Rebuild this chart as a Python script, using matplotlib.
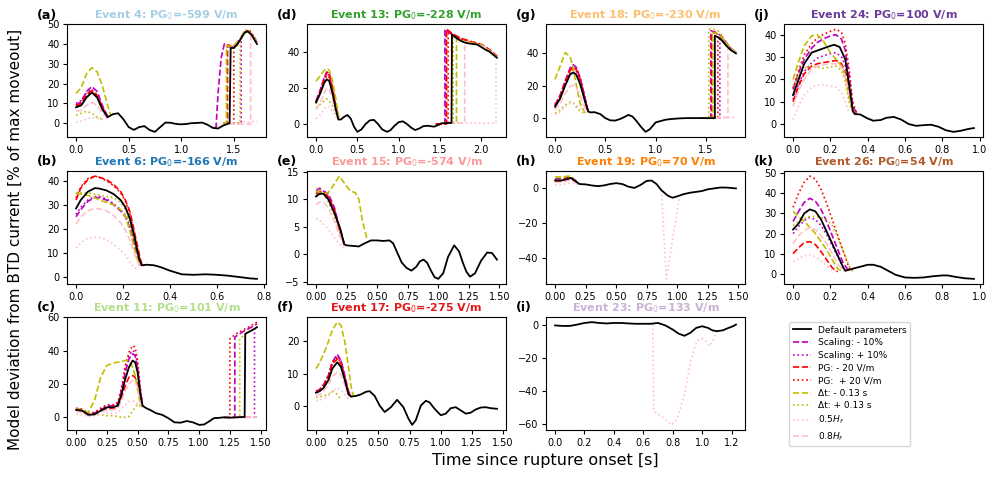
import numpy as np
import matplotlib
matplotlib.use('Agg')
import matplotlib.pyplot as plt
from matplotlib.lines import Line2D
from matplotlib.ticker import MultipleLocator

nan = np.nan

# Variant order: scaling -/+, PG -/+, dt -/+, 0.5Hf, 0.8Hf
VAR_COLORS = ['m', 'm', 'r', 'r', 'y', 'y', 'pink', 'pink']
VAR_STYLES = ['--', ':', '--', ':', '--', ':', ':', '--']
VAR_LABELS = ['Scaling: - 10%', 'Scaling: + 10%', 'PG: - 20 V/m', 'PG:  + 20 V/m',
              'Δt: - 0.13 s', 'Δt: + 0.13 s', '0.5$H_f$', '0.8$H_f$']

LETTERS = ['a', 'b', 'c', 'd', 'e', 'f', 'g', 'h', 'i', 'j', 'k']
EVENTS = [4, 6, 11, 13, 15, 17, 18, 19, 23, 24, 26]
PG0 = [-599, -166, 101, -228, -574, -275, -230, 70, 133, 100, 54]
X_STEP = [0.5, 0.2, 0.25, 0.5, 0.25, 0.25, 0.5, 0.25, 0.2, 0.2, 0.2]
Y_STEP = [10, 10, 20, 20, 5, 10, 20, 20, 20, 10, 10]

# ---------------- (a) Event 4
A_T = [0, .05, .1, .15, .2, .25, .3, .35, .4, .45, .5, .55, .6, .65, .7, .75, .8, .85, .9, .95,
       1.0, 1.05, 1.1, 1.15, 1.2, 1.25, 1.3, 1.35, 1.4, 1.46, 1.47, 1.5, 1.53, 1.56, 1.6, 1.63, 1.67, 1.72]
A_Y = [8, 9, 13, 15.5, 13, 7, 3, 4.5, 5, 2, -2, -3.4, -2, -1.5, -3.5, -4.4, -2, 0.3, 0.2, -0.4,
       -0.6, -0.4, 0, 0.1, 0.3, -0.8, -2.4, -2.7, -1.2, 0, 38, 38, 39.5, 42, 45.5, 46.5, 44.5, 40]
A_ET = [0, .05, .1, .15, .2, .25, .3, .33]
A_EY = [[9, 11, 16, 18.5, 16, 9, 3.5, nan],
        [10, 11.5, 15.5, 17, 14.5, 8, 3, nan],
        [8.5, 10, 14.5, 16.5, 14, 8, 3, nan],
        [9, 10, 14, 16, 13.5, 7.5, 3, nan],
        [15, 18, 25, 28, 26, 19, 9, 4],
        [4, 5, 6, 5, 3, 2, nan, nan],
        [0.5, 1, 2, 3, 2.5, 2, 2.5, nan],
        [6, 6.5, 9, 10.5, 9, 5, 2.5, nan]]
A_LT = [[1.33, 1.35, 1.38, 1.41, 1.43, 1.47, 1.5, 1.55, 1.6, 1.65, 1.72],
        [1.45, 1.57, 1.57, 1.6, 1.65, 1.72],
        [1.4, 1.44, 1.44, 1.5, 1.56, 1.6, 1.65, 1.72],
        [1.45, 1.5, 1.5, 1.56, 1.6, 1.65, 1.72],
        [1.4, 1.43, 1.43, 1.5, 1.56, 1.6, 1.65, 1.72],
        [1.45, 1.56, 1.56, 1.6, 1.63, 1.67, 1.72],
        [1.3, 1.45, 1.6, 1.72],
        [1.45, 1.66, 1.66, 1.72]]
A_LY = [[-2.8, 15, 33, 40, 39, 38.5, 39, 42, 46, 46, 41],
        [0, 0, 43, 46, 47, 41.5],
        [0, 0, 39.5, 39, 42, 46, 46.5, 41],
        [0, 0, 39, 42, 46, 46.5, 41],
        [0, 0, 39, 39, 42.5, 46, 46, 41],
        [0, 0, 43, 46.5, 47.5, 45, 41],
        [-2, 0, 0.5, 1],
        [-0.5, -0.5, 45, 40.5]]

# ---------------- (b) Event 6
B_T = [0, .02, .05, .08, .1, .13, .16, .19, .21, .23, .25, .26, .27, .28, .3, .33, .36, .4, .45,
       .5, .55, .6, .65, .7, .74, .77]
B_Y = [28.5, 32, 35.5, 37, 36.8, 36, 34.5, 32, 29, 24, 16, 11, 7, 4.8, 5, 4.8, 4, 2.5, 1,
       0.8, 1, 0.8, 0.4, -0.2, -0.7, -0.9]
B_ET = [0, .02, .05, .08, .1, .13, .16, .19, .21, .23, .25, .27, .28, .29]
B_EY = [[25, 28, 31.5, 33, 33, 32, 30, 27.5, 25, 20, 13, 6, 4.5, nan],
        [26, 29, 32, 33.5, 33.5, 32.5, 30.5, 28, 25.5, 21, 14, 7, 4.5, nan],
        [32, 37, 40.5, 42, 41.5, 40.5, 38.5, 35.5, 32, 27, 18, 9, 5, 4.5],
        [33, 37.5, 41, 42, 41.5, 40, 38, 35, 31.5, 26, 17, 8, 5, nan],
        [35, 34.5, 34, 33, 32, 31, 30, 28, 25, 19, 11, 4.5, nan, nan],
        [34.5, 35, 35, 34.5, 34, 33.5, 33, 31, 28, 22, 14, 6, 4.5, nan],
        [12, 14, 16, 16.5, 16.3, 15.5, 13.5, 11, 9, 6, 3.5, 4, nan, nan],
        [22, 25, 27.5, 28.5, 28.3, 27.5, 25.5, 22.5, 19.5, 15, 9, 4.5, nan, nan]]
B_LT = [None] * 8
B_LY = [None] * 8

# ---------------- (c) Event 11
C_T = [0, .05, .1, .15, .2, .25, .3, .34, .37, .4, .43, .46, .48, .5, .52, .54, .57, .6, .65, .7,
       .75, .8, .85, .9, .95, 1.0, 1.04, 1.08, 1.12, 1.16, 1.2, 1.25, 1.3, 1.35, 1.37, 1.375,
       1.4, 1.45, 1.47]
C_Y = [4.5, 4, 1.5, 1.8, 4, 6, 6, 7, 14, 23, 30, 34, 33, 27, 15, 7, 5.5, 4.5, 2.5, 1.5,
       -0.5, -3, -3.2, -2.2, -3, -4.5, -4.3, -2.5, -0.5, -0.3, 0, -0.2, 0, 0.2, 0.2, 50,
       51, 53, 54]
C_ET = [0, .05, .1, .15, .2, .25, .3, .34, .37, .4, .43, .46, .48, .5, .52, .54]
C_EY = [[5, 4.5, 2, 2.5, 4.5, 6.5, 7, 8, 16, 27, 35, 38, 37, 30, 17, 7],
        [5, 4.5, 2, 2.5, 5, 7, 7, 8.5, 17, 29, 37, 40, 39, 32, 18, 7],
        [4, 3.5, 1.5, 2, 3.5, 5, 5, 6, 12, 19, 24, 25, 24, 20, 12, 6],
        [5.5, 5, 2.5, 3, 5.5, 7.5, 7.5, 9, 18, 31, 39, 43, 42, 34, 19, 7],
        [5, 4.5, 3, 10, 24, 31, 32.5, 33, 33.5, 34, 34, 30, 25, 17, 9, 6],
        [4, 3.5, 2, 1.5, 1.5, 1, 1, 0.5, 0, 0, 0.5, 4, 6, 8, 7, 6],
        [2, 1.5, 0.5, 1, 1.5, 2.5, 2.5, 3, 5, 7.5, 9.5, 10, 9.5, 8, 6, 5.5],
        [3.5, 3, 1, 1.5, 3, 4.5, 4.5, 5.5, 10, 16, 20, 22, 21, 18, 11, 6]]
C_LT = [[1.2, 1.29, 1.29, 1.35, 1.4, 1.45, 1.47],
        [1.3, 1.45, 1.45, 1.47],
        [1.3, 1.47],
        [1.2, 1.25, 1.25, 1.3, 1.35, 1.4, 1.45, 1.47],
        None,
        [1.2, 1.33, 1.33, 1.4, 1.45, 1.47],
        [1.3, 1.47],
        [1.3, 1.47]]
C_LY = [[0, 0, 48, 51, 53, 55, 56],
        [0, 0, 53, 54],
        [0, 0],
        [0, 0, 47, 50, 52, 54, 56, 57],
        None,
        [0, 0, 47, 51, 53, 54],
        [0, 0],
        [0, 0]]

# ---------------- (d) Event 13
D_T = [0, .05, .1, .13, .16, .2, .24, .27, .3, .34, .38, .42, .46, .5, .55, .6, .65, .7, .75, .8,
       .86, .9, .95, 1.0, 1.05, 1.1, 1.15, 1.2, 1.25, 1.3, 1.35, 1.4, 1.43, 1.48, 1.53, 1.58,
       1.64, 1.645, 1.7, 1.75, 1.8, 1.85, 1.9, 1.95, 2.0, 2.05, 2.1, 2.15, 2.19]
D_Y = [12, 17, 23, 25, 24, 17, 8, 2.5, 2.5, 4, 5, 3, -1.5, -4.4, -3, 0, 2, 2.3, 0, -3,
       -4.4, -3.5, -1, 1, 1.5, 0, -2, -3.4, -2.5, -1.2, -1, -1.3, -1.5, -0.5, 0.4, 0.5,
       0.6, 50, 48, 46.5, 45.5, 45, 44.7, 44.4, 43, 41.5, 40.4, 38.5, 37]
D_ET = [0, .05, .1, .13, .16, .2, .24, .27, .29]
D_EY = [[13, 19, 26, 29, 28, 20, 10, 3, nan],
        [12.5, 18, 25, 28, 27, 19, 9, 3, nan],
        [12, 18, 25.5, 29, 28, 20, 9.5, 3, nan],
        [12, 17.5, 24.5, 27, 26, 18.5, 9, 3, nan],
        [24, 27, 30, 31, 30, 24, 14, 5, 2.5],
        [9, 11, 13, 14, 13, 10, 6, 3, nan],
        [3, 5, 8.5, 10, 9.5, 7, 4, 2.5, nan],
        [8, 12, 17.5, 20, 19, 14, 7, 2.5, nan]]
D_LT = [[1.45, 1.56, 1.56, 1.6, 1.65, 1.7, 1.8, 1.9, 2.0, 2.1, 2.19],
        [1.45, 1.57, 1.57, 1.65, 1.75, 1.85, 2.0, 2.19],
        [1.45, 1.58, 1.58, 1.65, 1.75, 1.85, 2.0, 2.1, 2.19],
        [1.45, 1.6, 1.6, 1.65, 1.75, 1.85, 2.0, 2.1, 2.19],
        [1.5, 1.7, 1.7, 1.75, 1.85, 2.0, 2.19],
        [1.5, 1.66, 1.66, 1.75, 1.85, 2.0, 2.19],
        [1.6, 2.18, 2.18],
        [1.6, 1.8, 1.8, 1.9, 2.0, 2.1, 2.19]]
D_LY = [[0, 0, 53, 51.5, 50, 48.5, 46.5, 45.5, 44, 41, 37.5],
        [0, 0, 52.5, 50, 47.5, 46, 44, 37.5],
        [0, 0, 53, 50.5, 48, 46.5, 44.5, 41.5, 38],
        [0, 0, 51.5, 50, 47.5, 46, 44.5, 41.5, 38],
        [0.5, 0.5, 48, 46.5, 45.5, 44, 37.5],
        [0.5, 0.5, 49, 47, 46, 44.5, 37.5],
        [0.5, 0.5, 36],
        [0.5, 0.5, 46, 45, 44, 41, 37]]

# ---------------- (e) Event 15
E_T = [0, .03, .06, .1, .15, .2, .23, .25, .3, .35, .4, .45, .5, .55, .6, .63, .67, .7, .74,
       .78, .82, .85, .88, .91, .94, .97, 1.0, 1.04, 1.08, 1.13, 1.17, 1.2, 1.23, 1.26, 1.3,
       1.35, 1.4, 1.44, 1.48]
E_Y = [10.5, 11, 11, 10, 7.5, 4.5, 1.8, 1.6, 1.5, 1.4, 2, 2.5, 2.5, 2.4, 2.5, 2, 0, -1.5,
       -2.5, -3, -2.3, -1.3, -1, -1.6, -3, -4.2, -4.5, -3.5, -0.5, 1.6, 0.5, -1.5, -3.2,
       -4.1, -3.5, -1.2, 0.3, 0.2, -1]
E_ET = [0, .03, .06, .1, .15, .19, .23, .28, .32, .35, .38, .42]
E_EY = [[11.5, 12, 11.5, 11, 8.5, 5, 2, nan, nan, nan, nan, nan],
        [11, 11.5, 11.5, 10.5, 8, 4.5, 1.8, nan, nan, nan, nan, nan],
        [11, 11.3, 11.2, 10.5, 8, 4.8, 1.8, nan, nan, nan, nan, nan],
        [10.5, 11, 11, 10.2, 7.8, 4.6, 1.8, nan, nan, nan, nan, nan],
        [11.5, 11.2, 11, 11.2, 12.8, 14.2, 13, 11.5, 11.2, 10, 6, 2.5],
        [12, 11.8, 11, 9.5, 7, 4, 1.7, nan, nan, nan, nan, nan],
        [6.5, 6.2, 5.5, 4.5, 3, 1.8, 1.2, nan, nan, nan, nan, nan],
        [9, 9.5, 9.5, 8.5, 6, 3.5, 1.5, nan, nan, nan, nan, nan]]
E_LT = [None] * 8
E_LY = [None] * 8

# ---------------- (f) Event 17
F_T = [0, .03, .06, .1, .13, .17, .2, .23, .26, .28, .32, .36, .4, .43, .47, .51, .55, .6, .65,
       .7, .74, .77, .8, .84, .88, .91, .95, 1.0, 1.04, 1.08, 1.12, 1.16, 1.2, 1.24, 1.28,
       1.32, 1.36, 1.4, 1.45]
F_Y = [4, 4.5, 5.5, 8, 11.5, 13.5, 12, 8, 3.5, 2.8, 3, 3.5, 4.3, 4.5, 3, 0, -2, -0.5, 1.8,
       -0.5, -4, -6, -4.5, 0, 1.5, 1, -1, -3, -2.5, -0.8, -0.5, -1.5, -2.5, -2.2, -1.2,
       -0.6, -0.5, -0.8, -1]
F_ET = [0, .03, .06, .1, .13, .17, .2, .23, .26, .28, .3]
F_EY = [[4.5, 5, 6.5, 9.5, 13.5, 16, 14, 9.5, 4.5, 3, nan],
        [4.5, 5, 6.5, 9.5, 13.5, 15.5, 14, 9, 4, 3, nan],
        [4.3, 4.8, 6, 9, 13, 14.5, 13, 8.5, 4, 3, nan],
        [4.5, 5, 6.3, 9.3, 13.5, 15, 13.5, 9, 4, 3, nan],
        [11.5, 13.5, 16, 20, 23.5, 26, 25, 20, 12, 6, 3],
        [2.5, 2.8, 3, 3.5, 4.5, 3.5, 1.8, nan, nan, nan, nan],
        [1.5, 1.8, 2, 3, 4.5, 5.5, 5, 3.5, 2, nan, nan],
        [3, 3.5, 4.5, 6.5, 9, 10.5, 9.5, 6.5, 3, 2.8, nan]]
F_LT = [None] * 8
F_LY = [None] * 8

# ---------------- (g) Event 18
G_T = [0, .05, .1, .15, .18, .21, .25, .3, .33, .36, .39, .45, .5, .55, .6, .65, .7, .73, .77,
       .8, .85, .9, .94, .97, 1.0, 1.05, 1.1, 1.15, 1.23, 1.3, 1.4, 1.5, 1.55, 1.59, 1.59,
       1.62, 1.66, 1.7, 1.75, 1.8]
G_Y = [7, 12, 20, 27, 28.2, 27, 21, 10, 4, 3.5, 3.7, 2.5, 0, -1.4, -1.5, -0.5, 1, 2, 1,
       -1, -5, -8.5, -7, -5, -2.7, -1.8, -1, -0.6, -0.2, 0, 0, 0, 0, 0, 51,
       50, 48, 45, 42, 40]
G_ET = [0, .05, .1, .15, .18, .21, .25, .3, .33]
G_EY = [[8, 14, 23, 31, 33, 31.5, 25, 12, 4],
        [8.5, 14, 22, 30, 32, 31, 25, 12, 4],
        [8, 13.5, 22, 29.5, 31.5, 30, 24, 11, 4],
        [7.5, 13, 21, 28.5, 30, 29, 23, 10, 4],
        [24, 32, 40.5, 38, 31, 21, 9, 3, nan],
        [3, 5, 8, 10, 9.5, 7, 4, 3, nan],
        [2, 4, 7, 9, 9.5, 8.5, 6, 3, nan],
        [5, 9, 15, 19.5, 20.5, 19, 14, 6, 3.5]]
G_LT = [[1.45, 1.55, 1.55, 1.6, 1.65, 1.7, 1.75, 1.8],
        [1.45, 1.64, 1.64, 1.7, 1.75, 1.8],
        [1.45, 1.56, 1.56, 1.6, 1.65, 1.7, 1.75, 1.8],
        [1.45, 1.62, 1.62, 1.66, 1.7, 1.75, 1.8],
        [1.45, 1.57, 1.57, 1.6, 1.65, 1.7, 1.75, 1.8],
        [1.45, 1.53, 1.53, 1.57, 1.62, 1.66, 1.7, 1.75, 1.8],
        [1.5, 1.8],
        [1.5, 1.72, 1.72, 1.76, 1.8]]
G_LY = [[0, 0, 54, 53, 51, 47, 43, 40.5],
        [0, 0, 50, 46, 43, 40.5],
        [0, 0, 53, 52.5, 50.5, 46.5, 43, 40.5],
        [0, 0, 51, 48.5, 45.5, 42.5, 40.5],
        [0, 0, 53, 52.5, 50.5, 46.5, 43, 40.5],
        [0, 0, 55, 55, 54, 51, 47, 43, 40.5],
        [0, 0.5],
        [0.3, 0.3, 44, 42, 40]]

# ---------------- (h) Event 19
H_T = [0, .05, .1, .13, .16, .2, .25, .3, .35, .4, .45, .5, .55, .6, .65, .7, .75, .79, .83,
       .87, .92, .96, 1.0, 1.05, 1.1, 1.15, 1.2, 1.25, 1.3, 1.35, 1.4, 1.45, 1.48]
H_Y = [4, 4, 4.8, 5.5, 4, 2, 1.8, 1.2, 0.8, 1.2, 2, 2.5, 2, 0.5, -0.2, 1.5, 3.8, 4, 2,
       -1.5, -4.5, -5.8, -5, -3.8, -3, -2.5, -2, -1, -0.5, 0, 0, -0.3, -0.5]
H_ET = [0, .04, .08, .1, .13, .16, .19]
H_EY = [[5, 5, 5.5, 5.8, 6, 4.5, 2.5],
        [4.5, 4.5, 5, 5.5, 6, 4, 2.3],
        [3.5, 3.5, 4.5, 5, 5.5, 3.5, 2],
        [4, 4, 5, 5.5, 6.2, 4, 2],
        [6, 6, 6.2, 6.5, 6.5, 4, 2],
        [5.5, 5.5, 5.8, 6, 6, 3.5, 2],
        [1.5, 1.5, 2, 2.5, 2.5, 2, 1.8],
        [3, 3, 3.5, 4, 4, 3, 2]]
H_LT = [None, None, None, None, None, None, [0.87, 0.91, 1.02], None]
H_LY = [None, None, None, None, None, None, [-1.5, -52, -4.5], None]

# ---------------- (i) Event 23
I_T = [0, .05, .1, .15, .2, .25, .3, .35, .4, .45, .5, .55, .6, .65, .7, .75, .8, .84, .88,
       .92, .96, 1.0, 1.04, 1.07, 1.1, 1.14, 1.18, 1.21, 1.23]
I_Y = [0, -0.3, -0.3, 0.5, 1.5, 2, 1.5, 1.2, 1.5, 1.5, 1.2, 1, 1, 1, 1.5, 0, -2.5, -5, -6.3,
       -4.5, -1.5, -0.5, -1.5, -3, -3.5, -3, -1.5, -0.5, 0.5]
I_ET = [0]
I_EY = [[nan]] * 8
I_LT = [None, None, None, None, None, None,
        [0.64, 0.665, 0.67, 0.72, 0.76, 0.79, 0.82, 0.84, 0.87, 0.89, 0.92, 0.95, 0.97, 1.0,
         1.02, 1.05, 1.08, 1.1, 1.12], None]
I_LY = [None, None, None, None, None, None,
        [1, 1.2, -52, -55, -58, -60.5, -58, -54, -45, -37, -23, -13, -9, -8, -9, -12.5, -8,
         -4, -3], None]

# ---------------- (j) Event 24
J_T = [0, .03, .06, .1, .15, .2, .22, .25, .28, .3, .32, .33, .36, .4, .43, .47, .5, .54, .58,
       .62, .66, .7, .74, .78, .82, .86, .9, .94, .97]
J_Y = [13, 20, 27, 32, 33.5, 35, 35.5, 34.5, 29, 18, 6, 4.5, 4.3, 2.5, 1.5, 1.8, 2.8, 3.2, 2,
       0, -0.8, -0.5, -0.3, -1.2, -2.8, -3.5, -3, -2.2, -1.8]
J_ET = [0, .03, .06, .1, .13, .16, .2, .23, .26, .28, .3, .32, .34]
J_EY = [[15.5, 23, 29, 34, 36.5, 38, 39.5, 40, 38, 33, 22, 8, 5],
        [11, 18, 23.5, 27.5, 29.5, 30.5, 31.5, 32, 30, 26, 17, 7, 5],
        [10, 17, 22.5, 26, 27, 27.5, 28, 28.5, 27, 23, 15, 6, nan],
        [16, 24, 31, 36, 38.5, 40, 41.5, 42.5, 41, 36, 25, 10, 5],
        [20, 28, 35, 39.5, 40, 37.5, 32, 29, 26, 22, 12, 5, nan],
        [17, 22, 25, 26, 25.5, 25, 25.5, 26, 24, 19, 10, 5, nan],
        [2, 8, 13, 16.5, 17.5, 17.5, 17, 16.5, 14, 10, 5, nan, nan],
        [8, 15, 20, 24.5, 26, 26.5, 27, 27, 25.5, 21, 14, 5, nan]]
J_LT = [None] * 8
J_LY = [None] * 8

# ---------------- (k) Event 26
K_T = [0, .03, .06, .09, .12, .15, .18, .21, .24, .27, .28, .3, .33, .36, .4, .43, .47, .5, .55,
       .6, .65, .7, .75, .8, .83, .87, .92, .97]
K_Y = [22, 25, 30, 32, 31, 27, 21, 15, 9, 3, 1.5, 2, 2.8, 3.5, 4.5, 4.5, 3.5, 2, -0.5,
       -1.8, -2, -1.8, -1.2, -0.8, -0.8, -1.5, -2.2, -2.5]
K_ET = [0, .03, .06, .09, .12, .15, .18, .21, .24, .27, .3, .32]
K_EY = [[26, 31, 35.5, 37.5, 36, 32, 26, 19, 12, 5, 1.5, nan],
        [20, 23.5, 26.5, 28, 27, 24, 19.5, 14, 8.5, 3, 1.5, nan],
        [10, 13, 15.5, 16, 14.5, 11, 7, 3, 1, nan, nan, nan],
        [33, 40, 45.5, 48.5, 47, 42, 35, 27, 19, 11, 3, 1.5],
        [31, 28.5, 26, 23, 20, 16, 12, 7, 2.5, 1, nan, nan],
        [24, 26, 27.5, 28.5, 28.5, 28, 27, 24, 18, 11, 4, 1.5],
        [6, 7.5, 9, 9.5, 8.5, 6.5, 4, 2, 1, nan, nan, nan],
        [15, 19, 21.5, 23, 22, 19, 15, 10, 5, 1.5, nan, nan]]
K_LT = [None] * 8
K_LY = [None] * 8

PANELS = [
    (A_T, A_Y, A_ET, A_EY, A_LT, A_LY), (B_T, B_Y, B_ET, B_EY, B_LT, B_LY),
    (C_T, C_Y, C_ET, C_EY, C_LT, C_LY), (D_T, D_Y, D_ET, D_EY, D_LT, D_LY),
    (E_T, E_Y, E_ET, E_EY, E_LT, E_LY), (F_T, F_Y, F_ET, F_EY, F_LT, F_LY),
    (G_T, G_Y, G_ET, G_EY, G_LT, G_LY), (H_T, H_Y, H_ET, H_EY, H_LT, H_LY),
    (I_T, I_Y, I_ET, I_EY, I_LT, I_LY), (J_T, J_Y, J_ET, J_EY, J_LT, J_LY),
    (K_T, K_Y, K_ET, K_EY, K_LT, K_LY),
]

paired = plt.get_cmap('Paired').colors
TITLE_COLORS = [paired[i] for i in [0, 1, 2, 3, 4, 5, 6, 7, 8, 9, 11]]

W, H = 995, 478
fig = plt.figure(figsize=(W / 100, H / 100), dpi=100)

col_left = [67, 307, 546, 784]
row_top = [24, 171, 317]
ax_w, ax_h = 199, 113

for idx, (t, y, et, ey, lt, ly) in enumerate(PANELS):
    col, row = divmod(idx, 3)
    ax = fig.add_axes([col_left[col] / W, (H - row_top[row] - ax_h) / H, ax_w / W, ax_h / H])
    for v in range(8):
        if not np.all(np.isnan(ey[v])):
            ax.plot(et, ey[v], color=VAR_COLORS[v], ls=VAR_STYLES[v], lw=1.2)
        if lt[v] is not None:
            ax.plot(lt[v], ly[v], color=VAR_COLORS[v], ls=VAR_STYLES[v], lw=1.2)
    ax.plot(t, y, color='k', lw=1.3, zorder=5)
    ax.xaxis.set_major_locator(MultipleLocator(X_STEP[idx]))
    ax.yaxis.set_major_locator(MultipleLocator(Y_STEP[idx]))
    ax.tick_params(labelsize=7, length=3, width=0.8, pad=2.5)
    for s in ax.spines.values():
        s.set_linewidth(0.8)
    ax.text(0.5, 1 + 9 / ax_h, f'Event {EVENTS[idx]}: PG$_0$={PG0[idx]} V/m', transform=ax.transAxes,
            ha='center', va='center', fontsize=8, fontweight='bold', color=TITLE_COLORS[idx])
    ax.text(-0.15, 1 + 9 / ax_h, f'({LETTERS[idx]})', transform=ax.transAxes,
            ha='left', va='center', fontsize=9, fontweight='bold')

handles = [Line2D([], [], color='k', lw=1.3, label='Default parameters')]
for v in range(8):
    handles.append(Line2D([], [], color=VAR_COLORS[v], ls=VAR_STYLES[v], lw=1.2, label=VAR_LABELS[v]))
fig.legend(handles=handles, loc='upper left', bbox_to_anchor=(789 / W, 1 - 322 / H),
           fontsize=6.5, framealpha=0.8, borderaxespad=0, labelspacing=0.4)

fig.text(545 / W, 1 - 461 / H, 'Time since rupture onset [s]', ha='center', va='center', fontsize=11.5)
fig.text(15 / W, 0.5, 'Model deviation from BTD current [% of max moveout]',
         ha='center', va='center', rotation=90, fontsize=11)

fig.savefig('out.png', dpi=100)
